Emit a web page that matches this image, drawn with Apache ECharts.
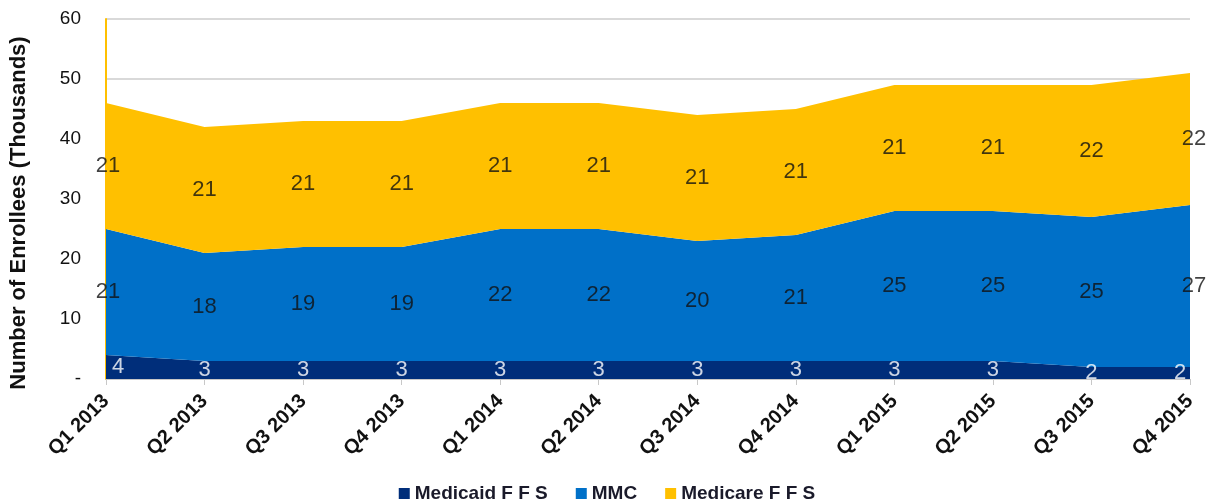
<!DOCTYPE html>
<html>
<head>
<meta charset="utf-8">
<script src="https://cdn.jsdelivr.net/npm/echarts@6/dist/echarts.min.js"></script>
<style>
  html, body { margin: 0; padding: 0; background: #fff; }
  #main { width: 1214px; height: 503px; }
</style>
</head>
<body>
<div id="main"></div>
<script>
// 季度
var quarters = ['Q1 2013', 'Q2 2013', 'Q3 2013', 'Q4 2013', 'Q1 2014', 'Q2 2014',
    'Q3 2014', 'Q4 2014', 'Q1 2015', 'Q2 2015', 'Q3 2015', 'Q4 2015'];
var medicaidFFS = [4, 3, 3, 3, 3, 3, 3, 3, 3, 3, 2, 2];
var mmc = [21, 18, 19, 19, 22, 22, 20, 21, 25, 25, 25, 27];
var medicareFFS = [21, 21, 21, 21, 21, 21, 21, 21, 21, 21, 22, 22];
var yTicks = [0, 10, 20, 30, 40, 50, 60];

var names = ['Medicaid FFS', 'MMC', 'Medicare FFS'];
var colors = ['#002E7A', '#0070C8', '#FFC000'];
var labelColors = ['#ffffff', '#111111', '#111111'];
var layers = [medicaidFFS, mmc, medicareFFS];

// 标签放在每一层的中间位置
function midPoints(k) {
    var out = [];
    var n = quarters.length;
    for (var i = 0; i < n; i++) {
        var base = 0;
        for (var j = 0; j < k; j++) base += layers[j][i];
        var item = { value: [i, base + layers[k][i] / 2], raw: layers[k][i] };
        // 两端的白色标签往里挪一点
        if (k === 0 && i === 0) item.label = { offset: [12, 0] };
        if (k === 0 && i === n - 1) item.label = { offset: [-10, 0] };
        if (k > 0 && i === 0) item.label = { offset: [2, 0] };
        if (k > 0 && i === n - 1) item.label = { offset: [4, 0] };
        out.push(item);
    }
    return out;
}

var series = [];
for (var k = 0; k < layers.length; k++) {
    series.push({
        name: names[k],
        type: 'line',
        stack: 'total',
        symbol: 'none',
        lineStyle: { width: 0 },
        areaStyle: { color: colors[k], opacity: 1 },
        itemStyle: { color: colors[k] },
        data: layers[k],
        z: 2
    });
}
for (var k = 0; k < layers.length; k++) {
    series.push({
        type: 'scatter',
        symbolSize: 0,
        silent: true,
        data: midPoints(k),
        label: {
            show: true,
            position: 'inside',
            color: labelColors[k],
            fontFamily: 'Liberation Sans',
            fontSize: 22,
            formatter: function (p) { return p.data.raw; }
        },
        z: 5
    });
}

var myChart = echarts.init(document.getElementById('main'));
var option = {
    animation: false,
    legend: {
        top: 479,
        left: 'center',
        data: names,
        icon: 'rect',
        itemWidth: 11,
        itemHeight: 11,
        itemGap: 28,
        formatter: function (name) {
            return name.replace('FFS', 'F F S');
        },
        textStyle: {
            color: '#1a1a2a',
            fontFamily: 'Liberation Sans',
            fontWeight: 'bold',
            fontSize: 19
        }
    },
    grid: {
        left: 105,
        right: 24,
        top: 19,
        bottom: 124
    },
    xAxis: {
        type: 'category',
        boundaryGap: false,
        data: quarters,
        axisLine: { lineStyle: { color: '#c8c8c8' } },
        axisTick: { show: true, length: 6, lineStyle: { color: '#c8c8c8' } },
        axisLabel: {
            rotate: 45,
            margin: 19,
            color: '#111111',
            fontFamily: 'Liberation Sans',
            fontWeight: 'bold',
            fontSize: 20
        },
        splitLine: { show: false }
    },
    yAxis: {
        type: 'value',
        min: 0,
        max: 60,
        interval: 10,
        name: 'Number of Enrollees (Thousands)',
        nameLocation: 'middle',
        nameGap: 76,
        nameTextStyle: {
            color: '#111111',
            fontFamily: 'Liberation Sans',
            fontWeight: 'bold',
            fontSize: 22,
            padding: [0, 28, 0, 0]
        },
        axisLine: { show: true, lineStyle: { color: '#FFC000', width: 2 } },
        axisTick: { show: false },
        axisLabel: {
            margin: 25,
            color: '#111111',
            fontFamily: 'Liberation Sans',
            fontSize: 19,
            formatter: function (v) { return v === yTicks[0] ? '-' : v; }
        },
        splitLine: { lineStyle: { color: '#d9d9d9', width: 2 } }
    },
    series: series
};
myChart.setOption(option);
window.addEventListener('resize', function () {
    myChart.resize();
});
</script>
</body>
</html>
